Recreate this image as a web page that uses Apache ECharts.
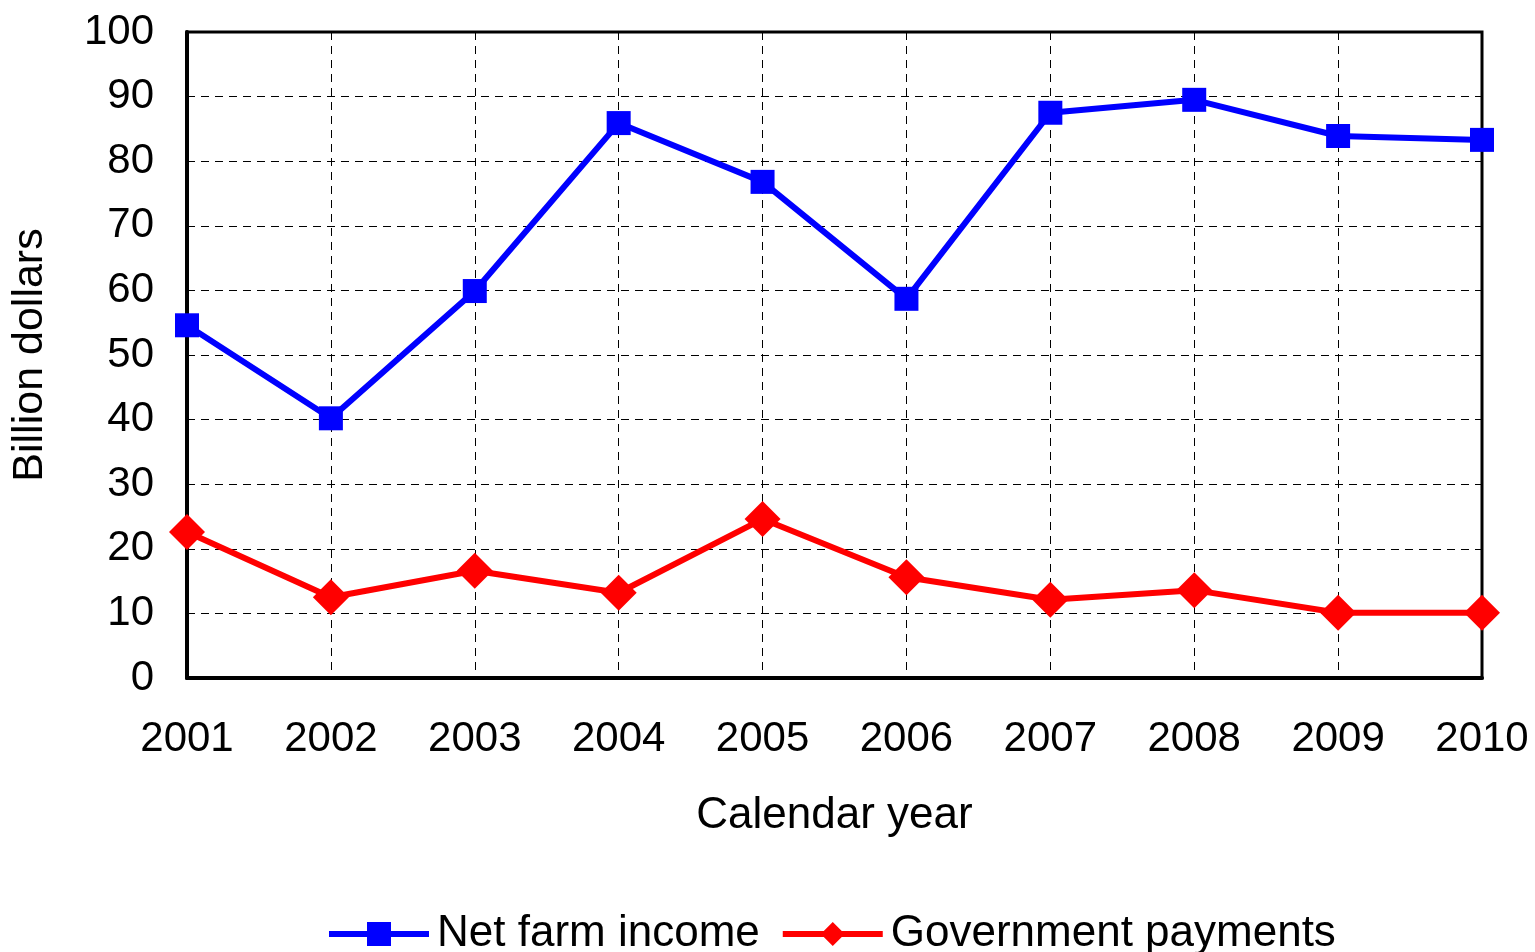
<!DOCTYPE html>
<html>
<head>
<meta charset="utf-8">
<script src="https://cdn.jsdelivr.net/npm/echarts@6/dist/echarts.min.js"></script>
<style>html,body{margin:0;padding:0;background:#fff;}#chart{width:1535px;height:952px;}</style>
</head>
<body>
<div id="chart"></div>
<script>
const years = ['2001','2002','2003','2004','2005','2006','2007','2008','2009','2010'];
const netFarmIncome = [54.6, 40.2, 59.9, 85.9, 76.8, 58.7, 87.5, 89.5, 83.9, 83.3];
const governmentPayments = [22.6, 12.5, 16.6, 13.2, 24.6, 15.6, 12.1, 13.6, 10.1, 10.1];
const yTicks = {min: 0, max: 100, interval: 10};

const font = 'Liberation Sans, Arial, sans-serif';
const chart = echarts.init(document.getElementById('chart'), null, {renderer: 'canvas'});
chart.setOption({
  animation: false,
  backgroundColor: '#fff',
  grid: {left: 187, right: 53, top: 32, bottom: 274, show: true, borderColor: '#000', borderWidth: 3, backgroundColor: 'transparent'},
  legend: {
    bottom: -9, left: 321, itemWidth: 100, itemHeight: 30, itemGap: 20,
    textStyle: {fontFamily: font, fontSize: 44, color: '#000', padding: [0, 0, 0, 3]},
    lineStyle: {width: 6},
    data: ['Net farm income', 'Government payments']
  },
  xAxis: {
    type: 'category', data: years, boundaryGap: false,
    name: 'Calendar year', nameLocation: 'middle', nameGap: 116,
    nameTextStyle: {fontFamily: font, fontSize: 44, color: '#000'},
    axisLine: {lineStyle: {color: '#000', width: 4}},
    axisTick: {show: false},
    axisLabel: {fontFamily: font, fontSize: 42, color: '#000', margin: 40},
    splitLine: {show: true, lineStyle: {color: '#000', width: 1, type: [8, 6]}}
  },
  yAxis: {
    type: 'value', min: yTicks.min, max: yTicks.max, interval: yTicks.interval,
    name: 'Billion dollars', nameLocation: 'middle', nameGap: 135,
    nameTextStyle: {fontFamily: font, fontSize: 43, color: '#000'},
    axisLine: {show: true, lineStyle: {color: '#000', width: 4}},
    axisTick: {show: true, inside: true, length: 6, lineStyle: {color: '#000', width: 1}},
    axisLabel: {fontFamily: font, fontSize: 42, color: '#000', margin: 33},
    splitLine: {show: true, lineStyle: {color: '#000', width: 1, type: [8, 6]}}
  },
  series: [
    {
      name: 'Net farm income', type: 'line', data: netFarmIncome,
      symbol: 'rect', symbolSize: 24, showAllSymbol: true,
      lineStyle: {color: '#0000FF', width: 6},
      itemStyle: {color: '#0000FF'}
    },
    {
      name: 'Government payments', type: 'line', data: governmentPayments,
      symbol: 'diamond', symbolSize: 36, showAllSymbol: true,
      lineStyle: {color: '#FF0000', width: 6},
      itemStyle: {color: '#FF0000'}
    }
  ]
});
</script>
</body>
</html>
